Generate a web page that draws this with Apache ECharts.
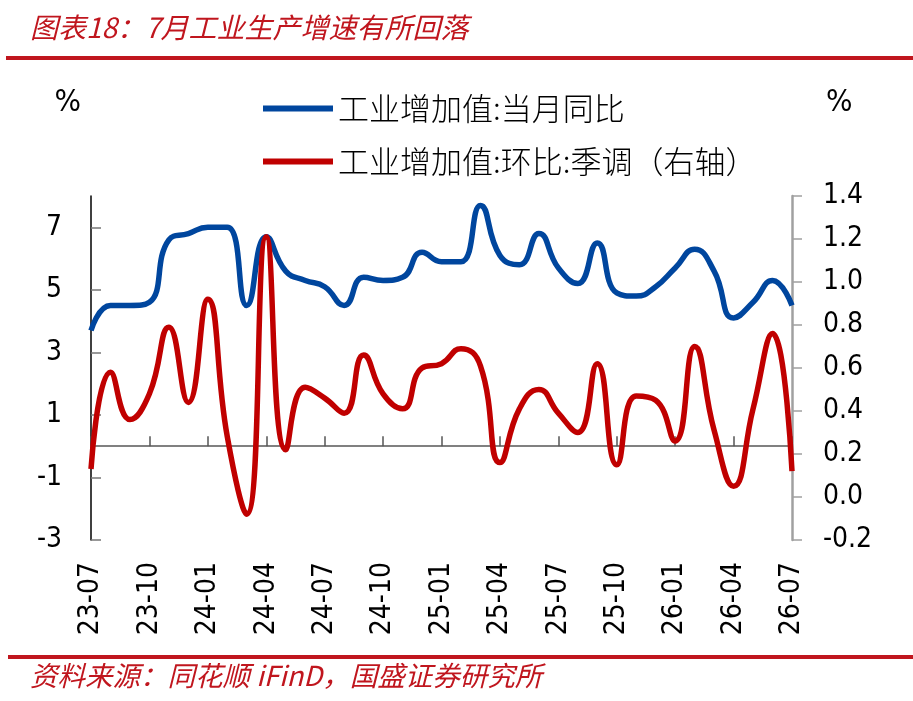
<!DOCTYPE html>
<html><head><meta charset="utf-8">
<script src="https://cdn.jsdelivr.net/npm/echarts@6/dist/echarts.min.js"></script>
<style>html,body{margin:0;padding:0;background:#fff}#c{width:913px;height:701px}</style>
</head><body><div id="c"></div>
<script>
const categories = ['23-07','23-08','23-09','23-10','23-11','23-12','24-01','24-02','24-03','24-04','24-05','24-06','24-07','24-08','24-09','24-10','24-11','24-12','25-01','25-02','25-03','25-04','25-05','25-06','25-07','25-08','25-09','25-10','25-11','25-12','26-01','26-02','26-03','26-04','26-05','26-06','26-07'];
const yoyValues = [3.7,4.5,4.5,4.6,6.6,6.8,7.0,7.0,4.5,6.7,5.6,5.3,5.1,4.5,5.4,5.3,5.4,6.2,5.9,5.9,7.7,6.1,5.8,6.8,5.7,5.2,6.5,4.9,4.8,5.1,5.7,6.3,5.6,4.1,4.6,5.3,4.5];
const momValues = [0.13,0.58,0.36,0.48,0.79,0.44,0.92,0.28,-0.08,1.21,0.22,0.51,0.46,0.39,0.66,0.48,0.41,0.60,0.62,0.69,0.61,0.16,0.41,0.50,0.39,0.30,0.62,0.15,0.47,0.45,0.26,0.70,0.31,0.05,0.41,0.76,0.12];
const leftTickValues = [-3,-1,1,3,5,7];
const seriesNames = ['工业增加值:当月同比','工业增加值:环比:季调（右轴）'];
const titleText = '图表18：7月工业生产增速有所回落';
const sourceText = '资料来源：同花顺 iFinD，国盛证券研究所';

const numFont = "'DejaVu Sans Condensed', 'Liberation Sans', sans-serif";
const cjkFont = "'Noto Sans CJK SC', sans-serif";
const red = '#C0161E';

const chart = echarts.init(document.getElementById('c'), null, {renderer: 'canvas'});
chart.setOption({
  animation: false,
  backgroundColor: '#fff',
  grid: {left: 91, right: 121, top: 196, bottom: 161, containLabel: false},
  legend: {
    orient: 'vertical', left: 258, top: 88,
    itemWidth: 70, itemHeight: 6, itemGap: 22, icon: 'rect',
    textStyle: {fontSize: 31, lineHeight: 31, fontWeight: 300, fontFamily: cjkFont, color: '#000'},
    data: seriesNames
  },
  graphic: [
    {type: 'text', left: 30, top: 13, style: {text: titleText, fontSize: 28, fontStyle: 'italic', fontFamily: cjkFont, fill: red}},
    {type: 'rect', shape: {x: 6, y: 56, width: 907, height: 4}, style: {fill: red}},
    {type: 'rect', shape: {x: 8, y: 655, width: 905, height: 4}, style: {fill: red}},
    {type: 'text', left: 30, top: 662, style: {text: sourceText, fontSize: 27.5, fontStyle: 'italic', fontFamily: cjkFont, fill: red}}
  ],
  xAxis: [
    {
      type: 'category', data: categories, boundaryGap: false, position: 'bottom',
      axisLine: {show: false, onZero: false}, axisTick: {show: false},
      axisLabel: {interval: 2, rotate: 90, margin: 22, fontSize: 28, fontFamily: numFont, color: '#000'},
      splitLine: {show: false}
    },
    {
      type: 'category', data: categories, boundaryGap: false, position: 'bottom',
      axisLine: {show: true, onZero: true, onZeroAxisIndex: 0, lineStyle: {color: '#808080', width: 2}},
      axisTick: {show: true, interval: 2, inside: true, length: 10, lineStyle: {color: '#555', width: 1.5}},
      axisLabel: {show: false}, splitLine: {show: false}
    }
  ],
  yAxis: [
    {
      type: 'value', min: -3, max: 8, interval: 2, position: 'left',
      name: '%', nameLocation: 'end', nameGap: 78,
      nameTextStyle: {fontSize: 31, fontFamily: numFont, color: '#000', align: 'right', padding: [0, 10, 0, 0]},
      axisLine: {show: true, onZero: false, lineStyle: {color: '#000', width: 1.5}},
      axisTick: {show: true, inside: true, length: 10, customValues: leftTickValues, lineStyle: {color: '#777', width: 1.5}},
      axisLabel: {margin: 29, fontSize: 28, fontFamily: numFont, color: '#000', customValues: leftTickValues},
      splitLine: {show: false}
    },
    {
      type: 'value', min: -0.2, max: 1.4, interval: 0.2, position: 'right',
      name: '%', nameLocation: 'end', nameGap: 78,
      nameTextStyle: {fontSize: 31, fontFamily: numFont, color: '#000', align: 'left', padding: [0, 0, 0, 34]},
      axisLine: {show: true, onZero: false, lineStyle: {color: '#A0A0A0', width: 2.5}},
      axisTick: {show: true, inside: false, length: 10, lineStyle: {color: '#A0A0A0', width: 1.5}},
      axisLabel: {margin: 31, fontSize: 28, fontFamily: numFont, color: '#000', formatter: v => v.toFixed(1)},
      splitLine: {show: false}
    }
  ],
  series: [
    {name: seriesNames[0], type: 'line', xAxisIndex: 0, yAxisIndex: 0, data: yoyValues, smooth: 0.5, symbol: 'none',
     lineStyle: {color: '#00469E', width: 5.5}, itemStyle: {color: '#00469E'}, z: 2},
    {name: seriesNames[1], type: 'line', xAxisIndex: 0, yAxisIndex: 1, data: momValues, smooth: 0.5, symbol: 'none',
     lineStyle: {color: '#C00000', width: 5.5}, itemStyle: {color: '#C00000'}, z: 3}
  ]
});
</script>
</body></html>
